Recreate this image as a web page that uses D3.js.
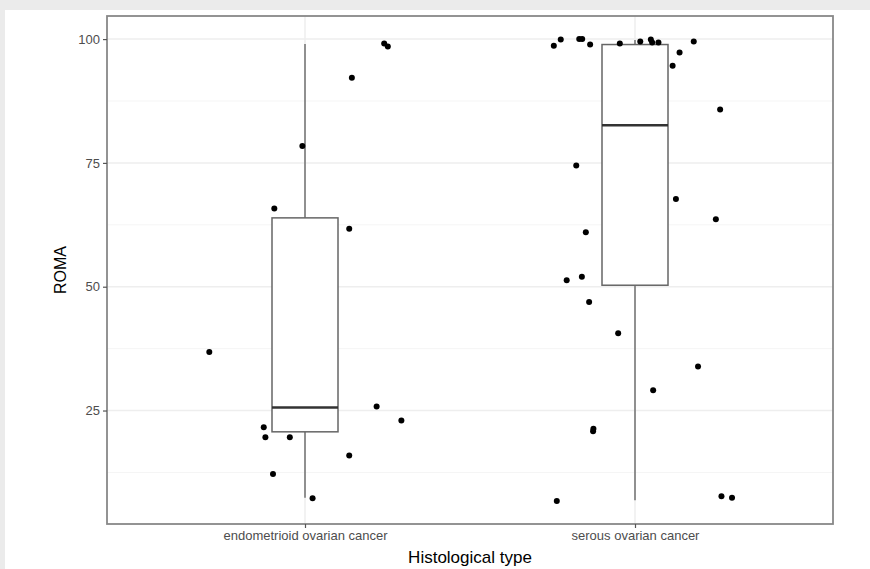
<!DOCTYPE html>
<html>
<head>
<meta charset="utf-8">
<script src="https://cdn.jsdelivr.net/npm/d3@7"></script>
<style>
  html, body { margin: 0; padding: 0; background: #ebebeb; }
  #chart { position: absolute; left: 5px; top: 10px; width: 865px; height: 559px; background: #fff; }
  text { font-family: Arial, "Liberation Sans", sans-serif; }
</style>
</head>
<body>
<div id="chart"></div>
<script>
// categories on the x axis
const categories = ["endometrioid ovarian cancer", "serous ovarian cancer"];

// box statistics: lower whisker, Q1, median, Q3, upper whisker
const whisker_low = [7.4, 6.9];
const q1 = [20.7, 50.3];
const median = [25.6, 82.6];
const q3 = [63.9, 98.9];
const whisker_high = [99.0, 99.8];

// jittered points: value and horizontal jitter (in category units)
const endo_values = [99.1, 98.5, 92.2, 78.4, 65.8, 61.7, 36.8, 25.8, 23.0, 21.6, 19.6, 19.6, 15.9, 12.2, 7.3];
const endo_jitter = [0.240, 0.251, 0.142, -0.008, -0.093, 0.134, -0.290, 0.217, 0.292, -0.125, -0.120, -0.046, 0.134, -0.097, 0.023];

const serous_values = [98.65, 99.9, 100, 100, 98.9, 99.1, 99.5, 99.9, 99.3, 99.3, 97.3, 99.5, 94.6, 85.8, 74.5, 67.7, 63.6, 61.0,
  51.3, 52.0, 46.9, 40.6, 33.9, 29.1, 21.3, 20.8, 6.75, 7.7, 7.4];
const serous_jitter = [-0.246, -0.225, -0.169, -0.160, -0.136, -0.046, 0.016, 0.048, 0.052, 0.071, 0.135, 0.178, 0.114, 0.258, -0.178, 0.124, 0.245, -0.149,
  -0.207, -0.161, -0.139, -0.051, 0.191, 0.055, -0.126, -0.127, -0.237, 0.262, 0.294];

const y_ticks = [25, 50, 75, 100];
const y_minor = [12.5, 37.5, 62.5, 87.5];

function box_plot(element_id) {
    const margin = { top: 6, right: 32, bottom: 45, left: 102 };
    const width = 726;
    const height = 508;

    const svg = d3.select(`#${element_id}`)
        .append("svg")
        .attr("width", 865)
        .attr("height", 559)
        .append("g")
        .attr("transform", `translate(${margin.left},${margin.top})`);

    const points = [];
    endo_values.forEach((v, i) => points.push({ cat: categories[0], value: v, jitter: endo_jitter[i] }));
    serous_values.forEach((v, i) => points.push({ cat: categories[1], value: v, jitter: serous_jitter[i] }));

    const x = d3.scalePoint()
        .domain(categories)
        .range([0, width])
        .padding(0.6);
    const step = x.step();

    const all = points.map(d => d.value).concat(whisker_low, whisker_high);
    const [lo, hi] = d3.extent(all);
    const pad = (hi - lo) * 0.05;
    const y = d3.scaleLinear()
        .domain([lo - pad, hi + pad])
        .range([height, 0]);

    // grid
    const grid = svg.append("g");
    grid.selectAll(".minor").data(y_minor).enter().append("line")
        .attr("x1", 0).attr("x2", width)
        .attr("y1", d => y(d)).attr("y2", d => y(d))
        .attr("stroke", "#f5f5f5").attr("stroke-width", 1);
    grid.selectAll(".major").data(y_ticks).enter().append("line")
        .attr("x1", 0).attr("x2", width)
        .attr("y1", d => y(d)).attr("y2", d => y(d))
        .attr("stroke", "#eeeeee").attr("stroke-width", 1.5);
    grid.selectAll(".vmajor").data(categories).enter().append("line")
        .attr("x1", d => x(d)).attr("x2", d => x(d))
        .attr("y1", 0).attr("y2", height)
        .attr("stroke", "#eeeeee").attr("stroke-width", 1.5);

    // boxes
    const box_w = step * 0.2;
    const boxes = svg.append("g");
    categories.forEach((c, i) => {
        const cx = x(c);
        boxes.append("line")
            .attr("x1", cx).attr("x2", cx)
            .attr("y1", y(whisker_high[i])).attr("y2", y(q3[i]))
            .attr("stroke", "#777").attr("stroke-width", 1.6);
        boxes.append("line")
            .attr("x1", cx).attr("x2", cx)
            .attr("y1", y(q1[i])).attr("y2", y(whisker_low[i]))
            .attr("stroke", "#777").attr("stroke-width", 1.6);
        boxes.append("rect")
            .attr("x", cx - box_w / 2).attr("width", box_w)
            .attr("y", y(q3[i])).attr("height", y(q1[i]) - y(q3[i]))
            .attr("fill", "#fff").attr("stroke", "#666").attr("stroke-width", 1.5);
        boxes.append("line")
            .attr("x1", cx - box_w / 2).attr("x2", cx + box_w / 2)
            .attr("y1", y(median[i])).attr("y2", y(median[i]))
            .attr("stroke", "#333").attr("stroke-width", 2.5);
    });

    // points
    svg.selectAll(".dot").data(points).enter().append("circle")
        .attr("cx", d => x(d.cat) + d.jitter * step)
        .attr("cy", d => y(d.value))
        .attr("r", 3)
        .attr("fill", "#000");

    // panel border
    svg.append("rect")
        .attr("x", 0).attr("y", 0).attr("width", width).attr("height", height)
        .attr("fill", "none").attr("stroke", "#888").attr("stroke-width", 1.8);

    // axes
    const ya = svg.append("g")
        .call(d3.axisLeft(y).tickValues(y_ticks).tickSize(4).tickPadding(3));
    ya.select(".domain").remove();
    ya.selectAll(".tick line").attr("stroke", "#555").attr("stroke-width", 1.2);
    ya.selectAll(".tick text").attr("fill", "#4d4d4d").attr("font-size", "13px");

    const xa = svg.append("g")
        .attr("transform", `translate(0,${height})`)
        .call(d3.axisBottom(x).tickSize(4).tickPadding(3));
    xa.select(".domain").remove();
    xa.selectAll(".tick line").attr("stroke", "#555").attr("stroke-width", 1.2);
    xa.selectAll(".tick text").attr("fill", "#4d4d4d").attr("font-size", "13px");

    svg.append("text")
        .attr("x", width / 2)
        .attr("y", height + 39)
        .attr("text-anchor", "middle")
        .attr("font-size", "17px")
        .attr("fill", "#000")
        .text("Histological type");

    svg.append("text")
        .attr("transform", "rotate(-90)")
        .attr("x", -height / 2)
        .attr("y", -41)
        .attr("text-anchor", "middle")
        .attr("font-size", "16px")
        .attr("fill", "#000")
        .text("ROMA");
}

box_plot("chart");
</script>
</body>
</html>
